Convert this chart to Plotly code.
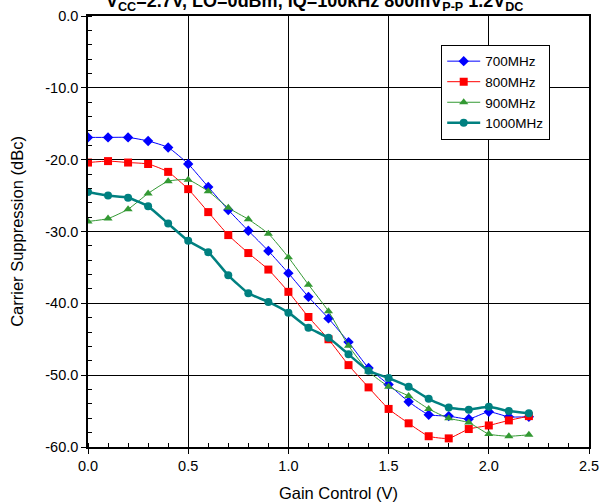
import plotly.graph_objects as go

gain_v = [0.0, 0.1, 0.2, 0.3, 0.4, 0.5, 0.6, 0.7, 0.8, 0.9, 1.0, 1.1,
          1.2, 1.3, 1.4, 1.5, 1.6, 1.7, 1.8, 1.9, 2.0, 2.1, 2.2]

s700 = [-16.9, -16.9, -16.9, -17.4, -18.3, -20.6, -23.8, -27.0, -29.9, -32.7, -35.8, -39.1,
        -42.1, -45.4, -49.0, -51.3, -53.7, -55.5, -55.7, -56.1, -55.1, -55.8, -55.8]
s800 = [-20.4, -20.2, -20.4, -20.6, -21.7, -24.1, -27.3, -30.5, -33.0, -35.3, -38.4, -41.9,
        -45.0, -48.6, -51.7, -54.7, -56.7, -58.5, -58.8, -57.5, -57.0, -56.3, -55.7]
s900 = [-28.6, -28.2, -26.9, -24.7, -23.0, -22.8, -24.4, -26.7, -28.3, -30.3, -33.6, -37.4,
        -41.1, -45.9, -49.5, -51.6, -52.9, -54.7, -56.0, -56.6, -58.2, -58.5, -58.3]
s1000 = [-24.5, -25.0, -25.3, -26.5, -28.9, -31.3, -32.9, -36.1, -38.6, -39.8, -41.3, -43.4,
         -44.8, -47.1, -49.4, -50.4, -51.6, -53.3, -54.5, -54.8, -54.4, -55.0, -55.3]

y_ticks = [0, -10, -20, -30, -40, -50, -60]
y_tick_labels = ["0.0", "-10.0", "-20.0", "-30.0", "-40.0", "-50.0", "-60.0"]
x_ticks = [0, 0.5, 1.0, 1.5, 2.0, 2.5]
x_tick_labels = ["0.0", "0.5", "1.0", "1.5", "2.0", "2.5"]

FONT = "Liberation Sans, Arial, sans-serif"

series = [
    ("700MHz", s700, "#0000FF", "diamond", 8, 1),
    ("800MHz", s800, "#FF0000", "square", 8, 1),
    ("900MHz", s900, "#339933", "triangle-up", 8, 1),
    ("1000MHz", s1000, "#008080", "circle", 8, 2.5),
]

fig = go.Figure()
for name, vals, col, sym, msz, lw in series:
    fig.add_trace(go.Scatter(
        x=gain_v, y=vals, name=name, mode="lines+markers",
        line=dict(color=col, width=lw, shape="spline", smoothing=0.5),
        marker=dict(symbol=sym, size=msz, color=col),
    ))

axis_common = dict(
    showgrid=True, gridcolor="#000000", gridwidth=1,
    showline=True, linecolor="#000000", linewidth=1.5, mirror=True,
    ticks="outside", ticklen=5, tickcolor="#000000",
    tickfont=dict(family=FONT, size=14.5, color="#000000"),
    zeroline=False, automargin=False,
)

fig.update_xaxes(
    range=[0, 2.5], tickvals=x_ticks, ticktext=x_tick_labels,
    title=dict(text="Gain Control (V)", font=dict(family=FONT, size=16.5, color="#000000"), standoff=14),
    minor=dict(dtick=0.1, ticks="inside", ticklen=4, tickcolor="#000000", showgrid=False),
    **axis_common,
)
fig.update_yaxes(
    range=[-60, 0], tickvals=y_ticks, ticktext=y_tick_labels,
    title=dict(text="Carrier Suppression (dBc)", font=dict(family=FONT, size=16.5, color="#000000"), standoff=18),
    minor=dict(dtick=2, ticks="inside", ticklen=4, tickcolor="#000000", showgrid=False),
    **axis_common,
)

fig.add_annotation(
    text="<b>V<sub>CC</sub>=2.7V, LO=0dBm, IQ=100kHz 800mV<sub>P-P</sub> 1.2V<sub>DC</sub></b>",
    xref="paper", yref="paper", x=0.453, y=1.0, yshift=0,
    xanchor="center", yanchor="bottom", showarrow=False,
    font=dict(family=FONT, size=18, color="#000000"),
)

fig.update_layout(
    width=608, height=504,
    margin=dict(l=88, r=19, t=16, b=57),
    paper_bgcolor="white", plot_bgcolor="white",
    font=dict(family=FONT, color="#000000"),
    legend=dict(
        x=0.705, y=0.933, xanchor="left", yanchor="top",
        bgcolor="white", bordercolor="#000000", borderwidth=1,
        font=dict(family=FONT, size=13.5, color="#000000"),
        tracegroupgap=0, itemwidth=33,
    ),
)

fig.write_html(
    "out.html",
    config={"displayModeBar": False},
    post_script="document.body.style.margin='0';document.body.style.padding='0';",
)
